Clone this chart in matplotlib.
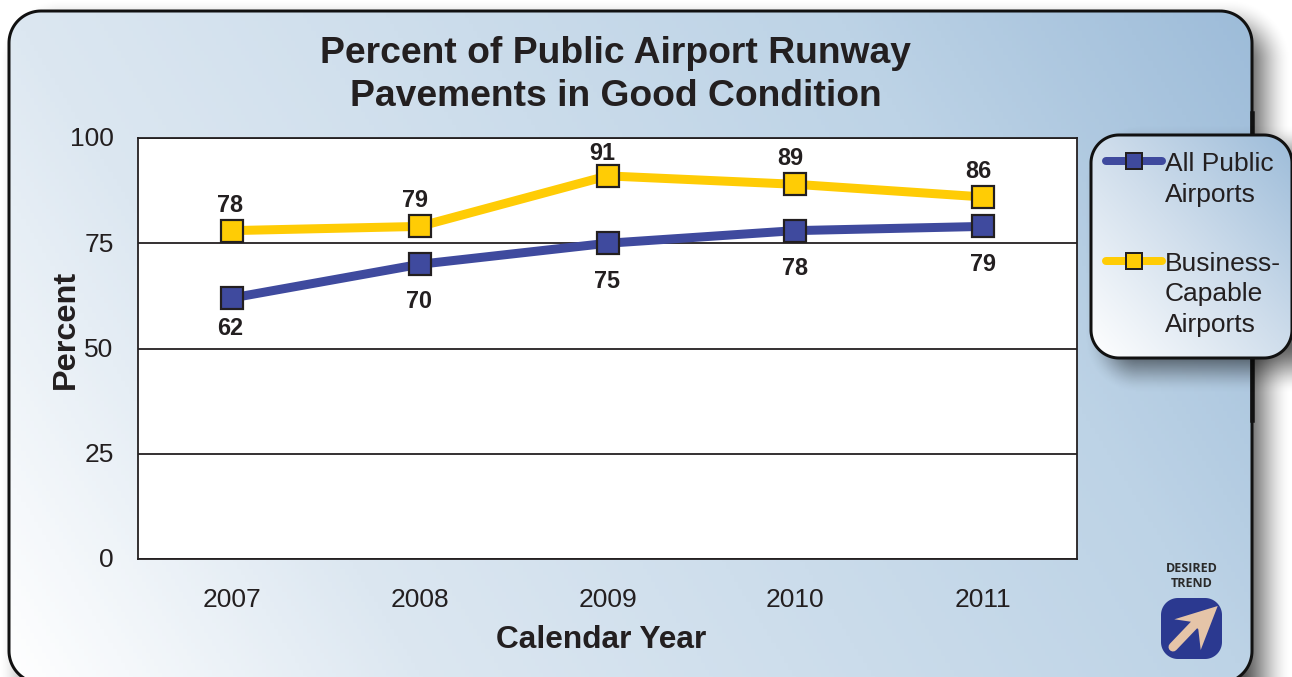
import numpy as np
import matplotlib
matplotlib.use('Agg')
import matplotlib.pyplot as plt
from matplotlib.colors import LinearSegmentedColormap
from matplotlib.patches import Polygon
from matplotlib.transforms import ScaledTranslation

plt.rcParams['font.family'] = ['Liberation Sans', 'DejaVu Sans']

years = ['2007', '2008', '2009', '2010', '2011']
all_public = [62, 70, 75, 78, 79]
business_capable = [78, 79, 91, 89, 86]
y_ticks = [0, 25, 50, 75, 100]

# label offsets in pixels from the marker
all_public_offsets = [(-1.5, -31), (-0.5, -37), (-0.5, -38), (-0.5, -38), (-0.5, -38)]
business_offsets = [(-1.5, 25.5), (-4.5, 25.5), (-5.5, 22), (-4.5, 25.5), (-4.5, 25.5)]

BLUE = '#3F4A9E'
YELLOW = '#FFCC05'
DARK = '#231F20'
W, H = 1292, 677
px = 72 / 100  # points per pixel at dpi 100

fig = plt.figure(figsize=(W / 100, H / 100), dpi=100, facecolor='white')

# Overlay in pixel coordinates for the panel, the legend box and the trend icon
bg = fig.add_axes([0, 0, 1, 1], zorder=0)
bg.set_xlim(0, W)
bg.set_ylim(H, 0)
bg.axis('off')


def rounded(x0, y0, x1, y1, r, **kw):
    # polygon with circular corners, curves get clipped badly at the figure edge
    pts = []
    corners = [(x1 - r, y0 + r, -90), (x1 - r, y1 - r, 0), (x0 + r, y1 - r, 90), (x0 + r, y0 + r, 180)]
    for cx, cy, start in corners:
        a = np.radians(np.linspace(start, start + 90, 24))
        pts.extend(zip(cx + r * np.cos(a), cy + r * np.sin(a)))
    return Polygon(pts, closed=True, **kw)


def gradient_box(ax, x0, y0, x1, y1, r, cmap, xw, zorder):
    # diagonal gradient, clipped to a rounded box
    gx, gy = np.meshgrid(np.linspace(0, 1, 300), np.linspace(0, 1, 200))
    img = xw * gx + (1 - xw) * (1 - gy)
    im = ax.imshow(img, extent=(x0, x1, y1, y0), cmap=cmap, vmin=0, vmax=1,
                   aspect='auto', zorder=zorder)
    clip = rounded(x0, y0, x1, y1, r, fc='none', ec='none', zorder=zorder)
    ax.add_patch(clip)
    im.set_clip_path(clip)
    ax.add_patch(rounded(x0, y0, x1, y1, r, fc='none', ec='#111111',
                         lw=3 * px, zorder=zorder + 0.1))


def soft_shadow(ax, x0, y0, x1, y1, r, blur, strength, zorder):
    # blurred rounded box as an RGBA image, from the distance to its edge
    gx, gy = np.meshgrid(np.arange(W) + 0.5, np.arange(H) + 0.5)
    qx = np.abs(gx - (x0 + x1) / 2) - ((x1 - x0) / 2 - r)
    qy = np.abs(gy - (y0 + y1) / 2) - ((y1 - y0) / 2 - r)
    dist = np.hypot(np.maximum(qx, 0), np.maximum(qy, 0)) + np.minimum(np.maximum(qx, qy), 0) - r
    t = np.clip(0.5 - dist / (2 * blur), 0, 1)
    rgba = np.zeros((H, W, 4))
    rgba[..., 3] = strength * t * t * (3 - 2 * t)
    ax.imshow(rgba, extent=(0, W, H, 0), aspect='auto', zorder=zorder)


panel_map = LinearSegmentedColormap.from_list(
    'panel', [(0, '#FFFFFF'), (0.25, '#DCE7F1'), (0.75, '#BDD3E6'), (1, '#9DBCD9')])
legend_map = LinearSegmentedColormap.from_list('legend', ['#FFFFFF', '#D0DEEC', '#9DBCD9'])

soft_shadow(bg, 30, 30, 1260, 720, 32, 32, 0.8, 1)
gradient_box(bg, 9, 11, 1252, 683, 32, panel_map, 0.75, 2)
bg.plot([1252, 1252], [113, 420], color='#111111', lw=4.5 * px, zorder=2.5)

soft_shadow(bg, 1110, 150, 1320, 368, 28, 26, 0.62, 3)
gradient_box(bg, 1091, 135, 1292, 358, 28, legend_map, 0.5, 4)

# Legend entries
bg.plot([1106, 1162], [161, 161], color=BLUE, lw=8 * px, solid_capstyle='round', zorder=5)
bg.plot([1134], [161], 's', ms=16 * px, mfc=BLUE, mec=DARK, mew=2 * px, zorder=6)
bg.plot([1106, 1162], [261, 261], color=YELLOW, lw=8 * px, solid_capstyle='round', zorder=5)
bg.plot([1134], [261], 's', ms=16 * px, mfc=YELLOW, mec=DARK, mew=2 * px, zorder=6)
bg.text(1165, 179.5, 'All Public\nAirports', fontsize=19, color=DARK, ha='left', va='center',
        linespacing=1.34, zorder=6)
bg.text(1165, 294.5, 'Business-\nCapable\nAirports', fontsize=19, color=DARK, ha='left', va='center',
        linespacing=1.34, zorder=6)

# Desired trend icon
bg.text(1191.5, 576, 'DESIRED\nTREND', fontsize=9, fontweight='bold', family=['Open Sans', 'DejaVu Sans'],
        color='#2A2A2A', ha='center', va='center', linespacing=1.2, zorder=5)
bg.add_patch(rounded(1161, 598, 1222, 659, 17, fc='#2B3990', ec='none', zorder=5))
bg.plot([1173, 1194], [647, 625], color='#E5C4A8', lw=9 * px, solid_capstyle='round', zorder=6)
bg.add_patch(Polygon([(1217.7, 606), (1174.3, 619.3), (1190.7, 621.7), (1198.3, 629.3), (1200.7, 650)],
                     closed=True, fc='#E5C4A8', ec='none', zorder=6))

# Main chart
ax = fig.add_axes([138 / W, 1 - 559 / H, (1077 - 138) / W, (559 - 138) / H], zorder=2)
ax.set_facecolor('white')
x = np.arange(len(years))
ax.plot(x, business_capable, color=YELLOW, lw=9 * px, marker='s', ms=22 * px,
        mfc=YELLOW, mec=DARK, mew=2.2 * px, clip_on=False, zorder=3)
ax.plot(x, all_public, color=BLUE, lw=9 * px, marker='s', ms=22 * px,
        mfc=BLUE, mec=DARK, mew=2.2 * px, clip_on=False, zorder=4)

for xi, v, (ox, oy) in zip(x, business_capable, business_offsets):
    ax.annotate(str(v), (xi, v), xytext=(ox * px, oy * px), textcoords='offset points',
                ha='center', va='center', fontsize=16.8, fontweight='bold', color=DARK, zorder=5)
for xi, v, (ox, oy) in zip(x, all_public, all_public_offsets):
    ax.annotate(str(v), (xi, v), xytext=(ox * px, oy * px), textcoords='offset points',
                ha='center', va='center', fontsize=16.8, fontweight='bold', color=DARK, zorder=5)

ax.set_xlim(-0.5, 4.5)
ax.set_ylim(0, 100)
ax.set_xticks(x, years)
ax.set_yticks(y_ticks)
ax.tick_params(length=0, labelsize=19, labelcolor=DARK)
ax.tick_params(axis='x', pad=20.7)
ax.tick_params(axis='y', pad=17.5)
# y tick labels sit a little high in the reference
for label in ax.get_yticklabels():
    label.set_transform(label.get_transform() + ScaledTranslation(0, 1.2 / 100, fig.dpi_scale_trans))
ax.grid(axis='y', color=DARK, lw=1.8 * px, zorder=1)
ax.set_axisbelow(True)
for s in ax.spines.values():
    s.set_linewidth(1.8 * px)
    s.set_color(DARK)

ax.set_xlabel('Calendar Year', fontsize=22.8, fontweight='bold', color=DARK, va='center')
ax.set_ylabel('Percent', fontsize=23.4, fontweight='bold', color=DARK, va='center')
ax.yaxis.set_label_coords((66 - 138) / (1077 - 138), (559 - 329.5) / (559 - 138))
ax.xaxis.set_label_coords((601.5 - 138) / (1077 - 138), (559 - 640) / (559 - 138))

fig.text(615.5 / W, 1 - 75 / H, 'Percent of Public Airport Runway\nPavements in Good Condition',
         fontsize=26.8, fontweight='bold', color=DARK, ha='center', va='center', linespacing=1.26, zorder=5)

fig.savefig('out.png', dpi=100)
